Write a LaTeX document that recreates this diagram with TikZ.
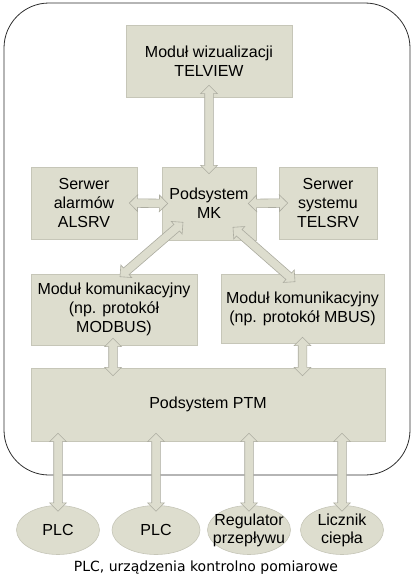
\documentclass[tikz,border=0pt]{standalone}
\usepackage{fontspec}
\setmainfont{Liberation Sans}
\newfontfamily\captionfont{DejaVu Sans}
\usetikzlibrary{calc,shapes.geometric,shapes.arrows}

\definecolor{boxfill}{RGB}{221,221,206}
\definecolor{boxline}{RGB}{198,198,184}
\definecolor{arrowline}{RGB}{172,172,160}
\definecolor{frameline}{RGB}{45,45,45}

\tikzset{
  sysframe/.style={rectangle, draw=frameline, line width=0.8pt, rounded corners=45pt},
  box/.style={rectangle, fill=boxfill, draw=boxline, line width=0.6pt, align=center,
    inner sep=2pt, font=\fontsize{16}{19}\selectfont},
  device/.style={ellipse, fill=boxfill, draw=boxline, line width=0.6pt,
    minimum width=83, minimum height=49, inner sep=0pt},
  devlabel/.style={align=center, inner sep=0pt, font=\fontsize{16}{18}\selectfont},
  flowarrow/.style={double arrow, fill=boxfill, draw=arrowline, line width=0.6pt,
    inner xsep=0pt, inner ysep=4pt, double arrow head extend=4pt,
    double arrow tip angle=90}
}

% double headed block arrow between two points
\newcommand{\linkarrow}[2]{%
  \path let \p1=($#2-#1$), \n1={veclen(\x1,\y1)}, \n2={atan2(\y1,\x1)} in
    node[flowarrow, minimum height=\n1, rotate=\n2] at ($#1!0.5!#2$) {};}

\begin{document}
\begin{tikzpicture}[x=1pt, y=-1pt]
  \useasboundingbox (0,0) rectangle (412,586);

  % System frame
  \node[sysframe, minimum width=406, minimum height=472] (system) at (207,239) {};

  % Modules
  \node[box, minimum width=166, minimum height=72] (telview) at (209,61) {Moduł wizualizacji\\TELVIEW};
  \node[box, minimum width=94, minimum height=73] (mk) at (209,203.5) {Podsystem\\MK};
  \node[box, minimum width=106, minimum height=72] (alsrv) at (84,203) {Serwer\\alarmów\\ALSRV};
  \node[box, minimum width=98, minimum height=72] (telsrv) at (328,203) {Serwer\\systemu\\TELSRV};
  \node[box, minimum width=166, minimum height=71] (modbus) at (114,309.5) {Moduł komunikacyjny\\(np. protokół\\MODBUS)};
  \node[box, minimum width=163, minimum height=69] (mbus) at (302.5,308.5) {Moduł komunikacyjny\\(np. protokół MBUS)};
  \node[box, minimum width=354, minimum height=73] (ptm) at (208,404.5) {Podsystem PTM};

  % Devices
  \node[device, label={[devlabel]center:PLC}] (plc1) at (58,530) {};
  \node[device, minimum width=88, label={[devlabel]center:PLC}] (plc2) at (156,530) {};
  \node[device, label={[devlabel]center:{Regulator\\przepływu}}] (reg) at (249,530) {};
  \node[device, label={[devlabel]center:{Licznik\\ciepła}}] (licz) at (342,530) {};

  \node[font=\captionfont\fontsize{14}{17}\selectfont] (caption) at (206,568) {PLC, urządzenia kontrolno pomiarowe};

  % Links
  \linkarrow{([yshift=12pt]telview.south)}{([yshift=-7pt]mk.north)}
  \linkarrow{([xshift=-8pt]alsrv.east)}{([xshift=6pt]mk.west)}
  \linkarrow{([xshift=-8pt]mk.east)}{([xshift=9pt]telsrv.west)}
  \linkarrow{([xshift=-26pt,yshift=18pt]mk.south)}{([xshift=6pt,yshift=-3pt]modbus.north)}
  \linkarrow{([xshift=24pt,yshift=13pt]mk.south)}{([xshift=-7.5pt,yshift=-8pt]mbus.north)}
  \linkarrow{([xshift=-1pt,yshift=7pt]modbus.south)}{([xshift=-95pt,yshift=-8pt]ptm.north)}
  \linkarrow{([yshift=6pt]mbus.south)}{([xshift=94.5pt,yshift=-8pt]ptm.north)}
  \foreach \dev in {plc1,plc2,reg,licz}{
    \coordinate (\dev top) at ($(\dev.north |- ptm.south)+(0,-8)$);
    \coordinate (\dev bot) at ($(\dev.north)+(0,6)$);
    \linkarrow{(\dev top)}{(\dev bot)}
  }
\end{tikzpicture}
\end{document}
